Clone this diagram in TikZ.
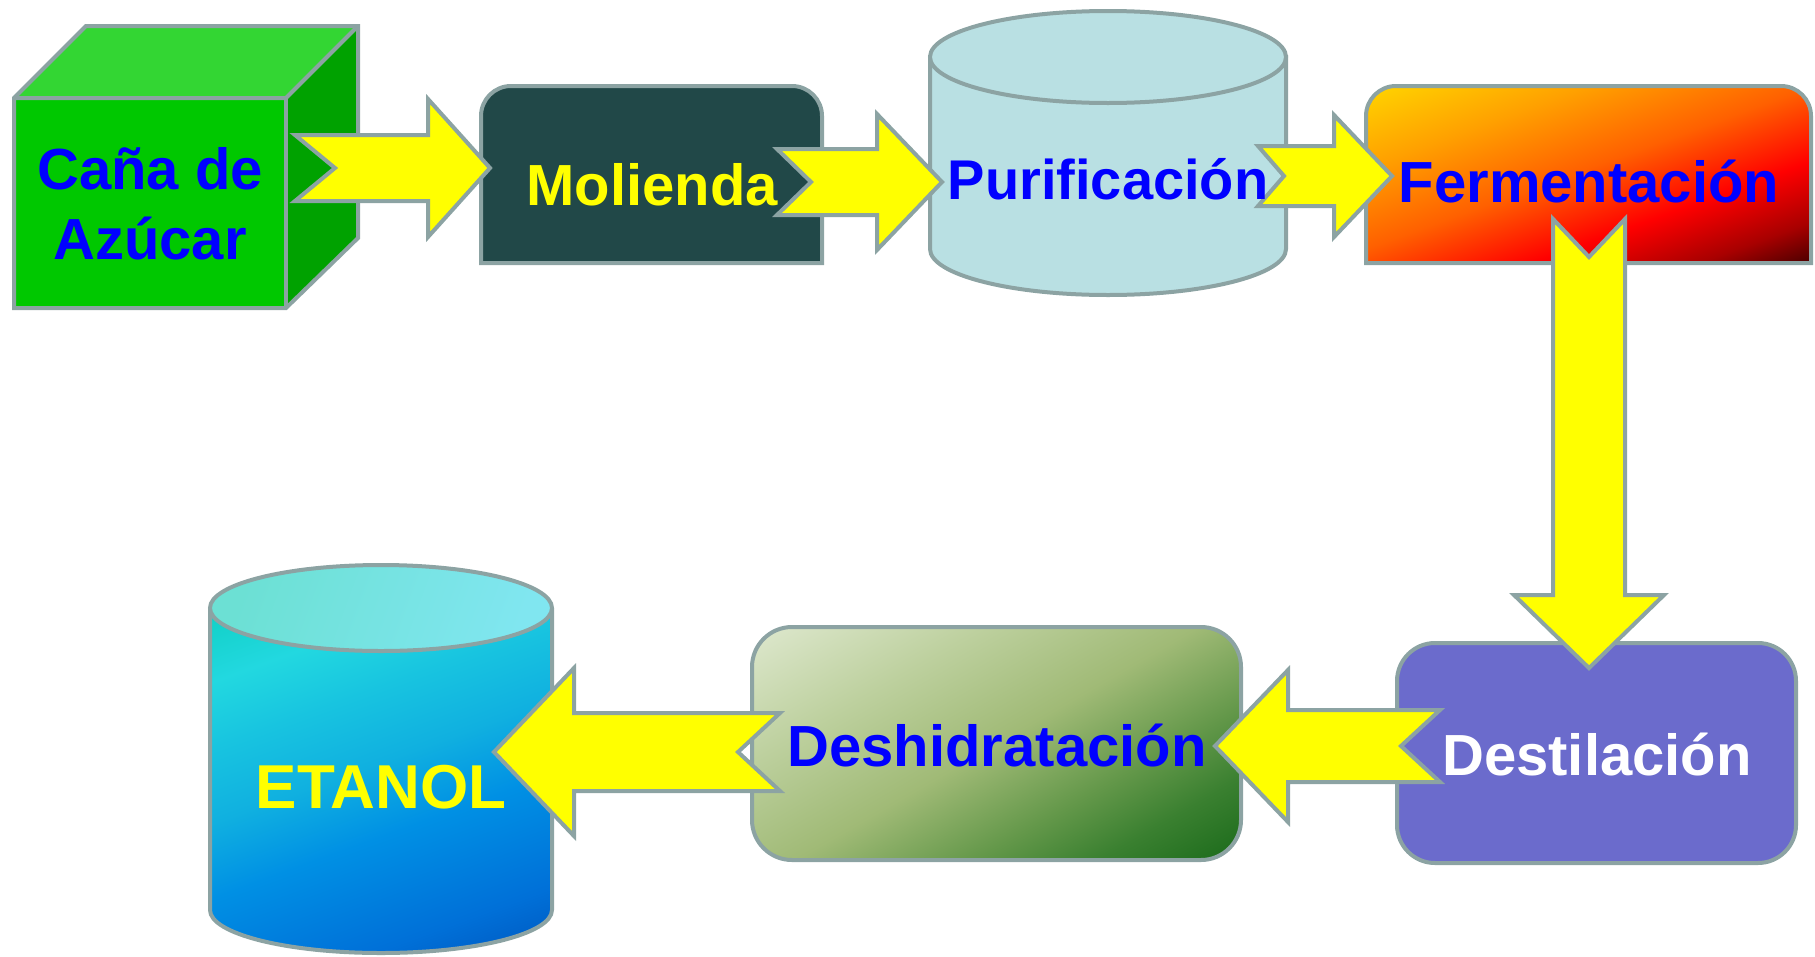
\documentclass[tikz,border=0pt]{standalone}
\usepackage{fontspec}
\setmainfont{Liberation Sans}
\usetikzlibrary{calc}
\definecolor{outl}{HTML}{8CA3A3}
\definecolor{yel}{HTML}{FFFF00}
\definecolor{txtblue}{HTML}{0000FF}
\definecolor{cubefront}{HTML}{00C800}
\definecolor{cubetop}{HTML}{33D633}
\definecolor{cuberight}{HTML}{00A200}
\definecolor{molfill}{HTML}{214848}
\definecolor{purfill}{HTML}{B9E0E3}
\definecolor{destfill}{HTML}{6B6BCC}
\definecolor{fer1}{HTML}{4A0000}
\definecolor{fer2}{HTML}{A80000}
\definecolor{fer3}{HTML}{FF0000}
\definecolor{fer4}{HTML}{FF6000}
\definecolor{fer5}{HTML}{FFA000}
\definecolor{fer6}{HTML}{FFD500}
\definecolor{des1}{HTML}{1A6A1A}
\definecolor{des2}{HTML}{3A8030}
\definecolor{des3}{HTML}{64984A}
\definecolor{des4}{HTML}{A0BA76}
\definecolor{des5}{HTML}{BDD09E}
\definecolor{des6}{HTML}{DEE8CE}
\definecolor{eta1}{HTML}{0058C0}
\definecolor{eta2}{HTML}{0070D8}
\definecolor{eta3}{HTML}{0090E4}
\definecolor{eta4}{HTML}{10B0E0}
\definecolor{eta5}{HTML}{18C4E0}
\definecolor{eta6}{HTML}{22D8E0}
\definecolor{eta7}{HTML}{10D0C4}
\definecolor{etatopA}{HTML}{6CE0D4}
\definecolor{etatopB}{HTML}{80E6F0}
\pgfdeclareverticalshading{fermshade}{100bp}{color(0bp)=(fer1); color(25bp)=(fer1); color(31bp)=(fer2); color(40bp)=(fer3); color(51bp)=(fer4); color(63bp)=(fer5); color(75bp)=(fer6); color(100bp)=(fer6)}
\pgfdeclareverticalshading{deshshade}{100bp}{color(0bp)=(des1); color(25bp)=(des1); color(33bp)=(des2); color(40bp)=(des3); color(50bp)=(des4); color(62bp)=(des5); color(75bp)=(des6); color(100bp)=(des6)}
\pgfdeclareverticalshading{etashade}{100bp}{color(0bp)=(eta1); color(25bp)=(eta1); color(32bp)=(eta2); color(44bp)=(eta3); color(52bp)=(eta4); color(60bp)=(eta5); color(67bp)=(eta6); color(75bp)=(eta7); color(100bp)=(eta7)}
\pgfdeclarehorizontalshading{etatop}{100bp}{color(0bp)=(etatopA); color(25bp)=(etatopA); color(75bp)=(etatopB); color(100bp)=(etatopB)}
\newcommand{\blockarrow}[6]{%
  \draw[barrow] ($(#1)!#3!90:(#2)$) -- ($(#2)!#5!(#1)!#3!-90:(#1)$) -- ($(#2)!#5!(#1)!#4!-90:(#1)$) -- (#2) -- ($(#2)!#5!(#1)!#4!90:(#1)$) -- ($(#2)!#5!(#1)!#3!90:(#1)$) -- ($(#1)!#3!-90:(#2)$) -- ($(#1)!#6!(#2)$) -- cycle;}
% #1 shading, #2 angle, #3 centre x, #4 centre y, #5 half width, #6 half extent
\newcommand{\gradrect}[6]{%
  \shade[shading=#1, transform canvas={rotate around={#2:(#3,#4)}}] ({#3-#5},{#4-#6}) rectangle ({#3+#5},{#4+#6});}
\tikzset{
  box/.style={draw=outl, line width=4pt, line join=miter},
  barrow/.style={draw=outl, fill=yel, line width=4pt, line join=miter, miter limit=10},
  lbl/.style={inner sep=0pt, font=\bfseries\fontsize{58}{70}\selectfont},
}
\begin{document}
\begin{tikzpicture}[x=1pt,y=-1pt]
\useasboundingbox (0,0) rectangle (1815,956);
% cube
\fill[cubefront] (14,98) rectangle (286,308);
\fill[cubetop] (14,98) -- (86,26) -- (358,26) -- (286,98) -- cycle;
\fill[cuberight] (286,98) -- (358,26) -- (358,238) -- (286,308) -- cycle;
\draw[box] (14,98) -- (86,26) -- (358,26) -- (358,238) -- (286,308) -- (14,308) -- cycle;
\draw[box] (14,98) -- (286,98) -- (358,26);
\draw[box] (286,98) -- (286,308);
% Molienda
\filldraw[box, fill=molfill] (481,263) -- (481,116) arc[start angle=180, end angle=270, radius=30] -- (792,86) arc[start angle=270, end angle=360, radius=30] -- (822,263) -- cycle;
% Purificacion cylinder
\filldraw[box, fill=purfill] (930,57) -- (930,249) arc[start angle=180, end angle=0, x radius=178, y radius=46] -- (1286,57) -- cycle;
\filldraw[box, fill=purfill] (1108,57) ellipse [x radius=178, y radius=46];
% Fermentacion
\begin{scope}
\clip (1366,263) -- (1366,116) arc[start angle=180, end angle=270, radius=30] -- (1781,86) arc[start angle=270, end angle=360, radius=30] -- (1811,263) -- cycle;
\gradrect{fermshade}{20}{1588.5}{174.5}{300}{159}
\end{scope}
\draw[box] (1366,263) -- (1366,116) arc[start angle=180, end angle=270, radius=30] -- (1781,86) arc[start angle=270, end angle=360, radius=30] -- (1811,263) -- cycle;
% Destilacion
\node[box, fill=destfill, rounded corners=38pt, minimum width=399pt, minimum height=220pt, inner sep=0pt] (destbox) at (1596.5,753) {};
% Deshidratacion
\begin{scope}
\clip[rounded corners=40pt] (752,627) rectangle (1241,860);
\gradrect{deshshade}{30}{996.5}{743.5}{280}{223}
\end{scope}
\node[box, rounded corners=40pt, minimum width=489pt, minimum height=233pt, inner sep=0pt] (deshbox) at (996.5,743.5) {};
% ETANOL cylinder
\begin{scope}
\clip (210,608) -- (210,910) arc[start angle=180, end angle=0, x radius=171, y radius=43] -- (552,608) -- cycle;
\gradrect{etashade}{20}{381}{780.5}{230}{221}
\end{scope}
\draw[box] (210,608) -- (210,910) arc[start angle=180, end angle=0, x radius=171, y radius=43] -- (552,608);
\shadedraw[box, shading=etatop, shading angle=-20] (381,608) ellipse [x radius=171, y radius=43];
% arrows
\coordinate (a1s) at (295,168); \coordinate (a1e) at (490,168);
\coordinate (a2s) at (777,182); \coordinate (a2e) at (942,182);
\coordinate (a3s) at (1258,176); \coordinate (a3e) at (1392,176);
\coordinate (a4s) at (1589,219); \coordinate (a4e) at (1589,668);
\coordinate (a5s) at (1440,746); \coordinate (a5e) at (1215,746);
\coordinate (a6s) at (780,752); \coordinate (a6e) at (494,752);
\blockarrow{a1s}{a1e}{33pt}{69pt}{62pt}{40pt}
\blockarrow{a2s}{a2e}{33pt}{68pt}{65pt}{34pt}
\blockarrow{a3s}{a3e}{30pt}{61pt}{58pt}{26pt}
\blockarrow{a4s}{a4e}{36pt}{75pt}{73pt}{38pt}
\blockarrow{a5s}{a5e}{36pt}{76pt}{73pt}{39pt}
\blockarrow{a6s}{a6e}{39pt}{84pt}{80pt}{42pt}
% texts
\node[lbl, text=txtblue, align=center] (caneT) at (150,204) {Caña de\\Azúcar};
\node[lbl, text=yel, anchor=base] (molT) at (652,205) {Molienda};
\node[lbl, text=txtblue, anchor=base, font=\bfseries\fontsize{56}{60}\selectfont] (purT) at (1108,199) {Purificación};
\node[lbl, text=txtblue, anchor=base] (ferT) at (1589,202) {Fermentación};
\node[lbl, text=white, anchor=base] (desT) at (1597,775) {Destilación};
\node[lbl, text=txtblue, anchor=base] (dhT) at (997,766) {Deshidratación};
\node[lbl, text=yel, anchor=base, font=\bfseries\fontsize{62}{66}\selectfont] (etaT) at (381,808) {ETANOL};
\end{tikzpicture}
\end{document}
